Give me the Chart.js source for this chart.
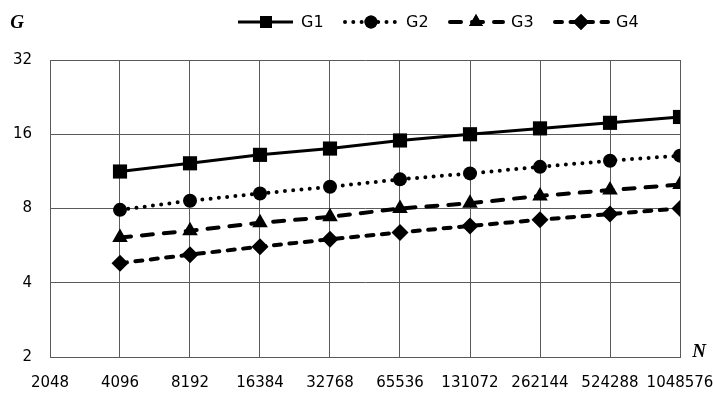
<!DOCTYPE html>
<html>
<head>
<meta charset="utf-8">
<script src="https://cdn.jsdelivr.net/npm/chart.js@4.4.0/dist/chart.umd.min.js"></script>
<style>
    html, body { margin: 0; padding: 0; background: #fff; }
    #wrap { width: 713px; height: 394px; }
</style>
</head>
<body>
<div id="wrap"><canvas id="chart1"></canvas></div>
<script>
// Data grafik
const nValues = [4096, 8192, 16384, 32768, 65536, 131072, 262144, 524288, 1048576];
const xTicks = [2048, 4096, 8192, 16384, 32768, 65536, 131072, 262144, 524288, 1048576];
const yTicks = [2, 4, 8, 16, 32];
const seriesNames = ['G1', 'G2', 'G3', 'G4'];
const g1 = [11.3, 12.2, 13.2, 14.0, 15.1, 16.0, 16.9, 17.8, 18.8];
const g2 = [7.9, 8.6, 9.2, 9.8, 10.5, 11.1, 11.8, 12.5, 13.1];
const g3 = [6.1, 6.5, 7.0, 7.4, 8.0, 8.4, 9.0, 9.5, 10.0];
const g4 = [4.8, 5.2, 5.6, 6.0, 6.4, 6.8, 7.2, 7.6, 8.0];

const tickFont = { family: "'DejaVu Sans', sans-serif", size: 15 };
const gridColor = '#5a5a5a';

// Gaya tiap seri
const styles = [
    { dash: [], cap: 'butt', width: 3, point: 'rect', radius: 10, legendRadius: 8.5 },
    { dash: [0, 8.3], cap: 'round', width: 4, point: 'circle', radius: 7, legendRadius: 6.5 },
    { dash: [11, 11], cap: 'round', width: 4, point: 'triangle', radius: 9, legendRadius: 8 },
    { dash: [7, 8.5], cap: 'round', width: 4, point: 'rectRot', radius: 8.5, legendRadius: 8 }
];

function toPoints(values) {
    return values.map((v, i) => ({ x: nValues[i], y: v }));
}

const allSeries = [g1, g2, g3, g4];
const datasets = allSeries.map((values, i) => ({
    label: seriesNames[i],
    data: toPoints(values),
    borderColor: '#000',
    backgroundColor: '#000',
    borderWidth: styles[i].width,
    borderDash: styles[i].dash,
    borderCapStyle: styles[i].cap,
    pointStyle: styles[i].point,
    pointRadius: styles[i].radius,
    pointBorderWidth: 0,
    pointBackgroundColor: '#000',
    tension: 0
}));

// Legenda dan judul sumbu digambar sendiri
const legendStart = [238, 343, 448, 553];
const extrasPlugin = {
    id: 'extras',
    afterDraw(chart) {
        const ctx = chart.ctx;
        ctx.save();
        const ly = 22;
        seriesNames.forEach((name, i) => {
            const s = styles[i];
            const x0 = legendStart[i];
            ctx.strokeStyle = '#000';
            ctx.lineWidth = s.width;
            ctx.lineCap = s.cap;
            ctx.setLineDash(s.dash);
            ctx.beginPath();
            ctx.moveTo(x0 + (s.cap === 'round' ? 2 : 0), ly);
            ctx.lineTo(x0 + 55, ly);
            ctx.stroke();
            ctx.setLineDash([]);
            ctx.fillStyle = '#000';
            Chart.helpers.drawPoint(ctx, { pointStyle: s.point, radius: s.legendRadius, rotation: 0, borderWidth: 0 }, x0 + 28, ly);
            ctx.fill();
            ctx.font = "16px 'DejaVu Sans', sans-serif";
            ctx.textAlign = 'left';
            ctx.textBaseline = 'middle';
            ctx.fillText(name, x0 + 63, ly + 1);
        });
        // Judul sumbu
        ctx.font = "bold italic 19px 'Liberation Serif', serif";
        ctx.textAlign = 'center';
        ctx.textBaseline = 'middle';
        ctx.fillText('G', 17, 23);
        ctx.fillText('N', 699, 352);
        ctx.restore();
    }
};

new Chart(document.getElementById('chart1'), {
    type: 'line',
    data: { datasets: datasets },
    options: {
        responsive: true,
        maintainAspectRatio: false,
        animation: false,
        layout: { padding: { top: 60, right: 33, left: 0, bottom: 0 } },
        plugins: {
            legend: { display: false },
            tooltip: { enabled: false }
        },
        scales: {
            x: {
                type: 'logarithmic',
                min: 2048,
                max: 1048576,
                afterBuildTicks: axis => { axis.ticks = xTicks.map(v => ({ value: v })); },
                afterFit: scale => {
                    scale.height = 37;
                    scale.paddingLeft = 0;
                    scale.paddingRight = 0;
                },
                grid: { color: gridColor, lineWidth: 1, drawTicks: false },
                border: { color: gridColor },
                ticks: {
                    font: tickFont,
                    color: '#000',
                    padding: 17,
                    autoSkip: false,
                    maxRotation: 0,
                    callback: v => String(v)
                }
            },
            y: {
                type: 'logarithmic',
                min: 2,
                max: 32,
                afterBuildTicks: axis => { axis.ticks = yTicks.map(v => ({ value: v })); },
                afterFit: scale => { scale.width = 50; },
                grid: { color: gridColor, lineWidth: 1, drawTicks: false },
                border: { color: gridColor },
                ticks: {
                    font: tickFont,
                    color: '#000',
                    padding: 18,
                    callback: v => String(v)
                }
            }
        }
    },
    plugins: [extrasPlugin]
});
</script>
</body>
</html>
